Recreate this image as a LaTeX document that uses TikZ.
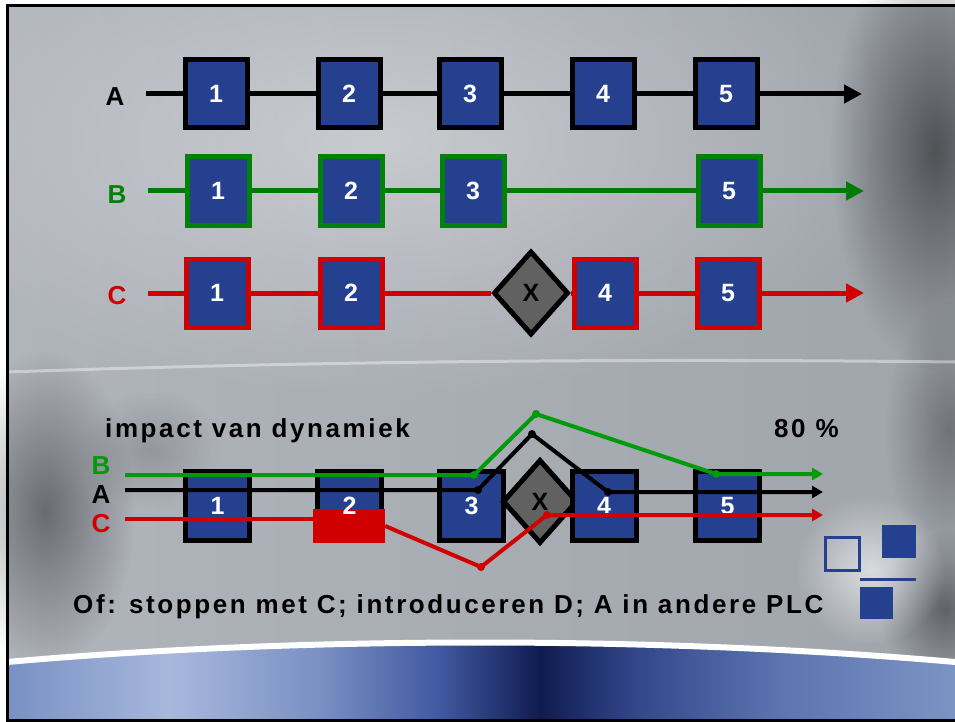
\documentclass[tikz,border=0pt]{standalone}
\usepackage{fontspec}
\setmainfont{Liberation Sans}
\newfontfamily\spc{Liberation Sans}[LetterSpace=10]
\usetikzlibrary{shapes.geometric,arrows.meta,fadings}
\definecolor{boxblue}{HTML}{25408F}
\definecolor{cred}{HTML}{D00000}
\definecolor{cgreen}{HTML}{00820A}
\definecolor{lgreen}{HTML}{009A0A}
\definecolor{dgray}{HTML}{616161}
\definecolor{bgL}{HTML}{B0B4BB}
\definecolor{bgM}{HTML}{CBCFD5}
\definecolor{bgR}{HTML}{A0A5AC}
\definecolor{bA}{HTML}{7890C4}
\definecolor{bB}{HTML}{A8B8DC}
\definecolor{bC}{HTML}{7A90C4}
\definecolor{bD}{HTML}{4058A0}
\definecolor{bE}{HTML}{101C50}
\definecolor{bF}{HTML}{34488C}
\definecolor{bG}{HTML}{5C74B0}
\definecolor{bH}{HTML}{7C94C4}
\tikzfading[name=softblob, inner color=transparent!0, outer color=transparent!100]
\pgfdeclarelayer{bg}
\pgfdeclarelayer{lines}
\pgfsetlayers{bg,lines,main}
\begin{document}
\begin{tikzpicture}[x=1pt,y=-1pt,
  txt/.style={font=\spc\bfseries\fontsize{26}{30}\selectfont, inner sep=0pt},
  bx/.style={line width=5pt, fill=boxblue, minimum width=62pt, minimum height=68pt,
    inner sep=0pt, text=white, font=\bfseries\fontsize{25}{30}\selectfont},
  bxA/.style={bx, draw=black},
  bxB/.style={bx, draw=cgreen},
  bxC/.style={bx, draw=cred},
  bxK/.style={bx, draw=black, minimum width=64pt, minimum height=69pt},
  dia/.style={diamond, draw=black, line width=5pt, fill=dgray, minimum width=75pt,
    minimum height=84pt, inner sep=0pt, font=\bfseries\fontsize{25}{30}\selectfont},
  redblock/.style={fill=cred, minimum width=72pt, minimum height=34pt, inner sep=0pt},
  numtxt/.style={text=white, inner sep=0pt, font=\bfseries\fontsize{25}{30}\selectfont},
  topline/.style={line width=5pt},
  endarrow/.style={-{Triangle[length=18pt,width=18pt]}},
  lowline/.style={line width=4pt},
  lowarrow/.style={-{Triangle[length=11pt,width=12pt]}},
  deco/.style={boxblue}
]
\useasboundingbox (0,0) rectangle (955,722);
% ---------- background ----------
\begin{pgfonlayer}{bg}
\fill[white] (0,0) rectangle (955,722);
\shade[left color=bgL, middle color=bgM, right color=bgR] (7,5) rectangle (955,722);
\fill[white, opacity=0.35, path fading=softblob] (380,140) ellipse (520 and 260);
\fill[black, opacity=0.5, path fading=softblob] (935,150) ellipse (105 and 220);
\fill[black, opacity=0.3, path fading=softblob] (950,430) ellipse (65 and 130);
\fill[black, opacity=0.4, path fading=softblob] (945,610) ellipse (65 and 80);
\fill[black, opacity=0.4, path fading=softblob] (45,510) ellipse (90 and 160);
\fill[black, opacity=0.15, path fading=softblob] (150,450) ellipse (70 and 60);
\fill[white, opacity=0.6, path fading=softblob] (870,570) ellipse (75 and 75);
\draw[white, opacity=0.4, line width=3pt] (7,372) .. controls (300,362) and (600,358) .. (955,362);
\begin{scope}
\clip (7,662) .. controls (300,636) and (660,636) .. (955,662) -- (955,722) -- (7,722) -- cycle;
\shade[left color=bA, right color=bB] (7,630) rectangle (170,722);
\shade[left color=bB, right color=bC] (170,630) rectangle (320,722);
\shade[left color=bC, right color=bD] (320,630) rectangle (440,722);
\shade[left color=bD, right color=bE] (440,630) rectangle (540,722);
\shade[left color=bE, right color=bF] (540,630) rectangle (640,722);
\shade[left color=bF, right color=bG] (640,630) rectangle (780,722);
\shade[left color=bG, right color=bH] (780,630) rectangle (955,722);
\end{scope}
\draw[white, line width=6pt] (7,662) .. controls (300,636) and (660,636) .. (955,662);
\draw[black, line width=3pt] (955,5.5) -- (7.5,5.5) -- (7.5,720.5) -- (955,720.5);
\end{pgfonlayer}
% ---------- row A ----------
\node[txt] (la) at (115,97) {A};
\coordinate (sa) at (146,94);
\coordinate (ea) at (862,94);
\node[bxA] (a1) at (216,94) {1};
\node[bxA] (a2) at (349,94) {2};
\node[bxA] (a3) at (470,94) {3};
\node[bxA] (a4) at (603,94) {4};
\node[bxA] (a5) at (726,94) {5};
% ---------- row B ----------
\node[txt, text=cgreen] (lb) at (117,195) {B};
\coordinate (sb) at (148,191);
\coordinate (eb) at (864,191);
\node[bxB] (b1) at (218,191) {1};
\node[bxB] (b2) at (351,191) {2};
\node[bxB] (b3) at (473,191) {3};
\node[bxB] (b5) at (729,191) {5};
% ---------- row C ----------
\node[txt, text=cred] (lc) at (117,296) {C};
\coordinate (sc) at (148,293);
\coordinate (ec) at (864,293);
\node[bxC] (c1) at (217,293) {1};
\node[bxC] (c2) at (351,293) {2};
\node[dia] (cx) at (531,293) {X};
\node[bxC] (c4) at (605,293) {4};
\node[bxC] (c5) at (728,293) {5};
\begin{pgfonlayer}{lines}
\draw[topline, black] (sa) -- (a1) -- (a2) -- (a3) -- (a4) -- (a5);
\draw[topline, black, endarrow] (a5) -- (ea);
\draw[topline, lgreen!80!black] (sb) -- (b1) -- (b2) -- (b3) -- (b5);
\draw[topline, lgreen!80!black, endarrow] (b5) -- (eb);
\draw[topline, cred] (sc) -- (c1) -- (c2) -- (cx) -- (c4) -- (c5);
\draw[topline, cred, endarrow] (c5) -- (ec);
\end{pgfonlayer}
% ---------- lower part ----------
\node[txt, anchor=base west] (imp) at (105,437) {impact van dynamiek};
\node[txt, anchor=base west] (pct) at (774,437) {80 \%};
\node[txt, text=lgreen] (lB) at (101,466) {B};
\node[txt] (lA) at (101,495) {A};
\node[txt, text=cred] (lC) at (101,524) {C};
\node[bxK] (k1) at (217.5,506) {1};
\node[bxK] (k2) at (349.5,506) {};
\node[bxK] (k3) at (471.5,506) {3};
\node[dia] (kx) at (540,501.5) {X};
\node[bxK] (k4) at (604,506) {4};
\node[bxK] (k5) at (727.5,506) {5};
\node[redblock] (rb) at (349,526) {};
\node[numtxt] (n2) at (349.5,506) {2};
% green path
\coordinate (gS) at (125,475);
\coordinate (g1) at (474,475);
\coordinate (g2) at (536,414);
\coordinate (g3) at (716,474);
\coordinate (gE) at (823,474);
\draw[lowline, lgreen, lowarrow] (gS) -- (g1) -- (g2) -- (g3) -- (gE);
\foreach \p in {g1,g2,g3} \fill[lgreen] (\p) circle (4pt);
% black path
\coordinate (kS) at (125,490);
\coordinate (q1) at (478,490);
\coordinate (q2) at (532,434);
\coordinate (q3) at (608,492);
\coordinate (kE) at (823,492);
\draw[lowline, black, lowarrow] (kS) -- (q1) -- (q2) -- (q3) -- (kE);
\foreach \p in {q1,q2,q3} \fill[black] (\p) circle (4pt);
% red path
\coordinate (rS) at (125,519);
\coordinate (r1) at (481,567);
\coordinate (r2) at (547,515);
\coordinate (rE) at (823,515);
\draw[lowline, cred] (rS) -- (rS -| rb.west);
\draw[lowline, cred, lowarrow] (rb.east) -- (r1) -- (r2) -- (rE);
\foreach \p in {r1,r2} \fill[cred] (\p) circle (4pt);
% caption
\node[txt, anchor=base west] (cap) at (73,613) {Of: stoppen met C; introduceren D; A in andere PLC};
% decoration
\draw[deco, line width=3pt] (825.5,537.5) rectangle (859.5,570.5);
\fill[deco] (882,525) rectangle (916,558);
\draw[deco, line width=3pt] (860,579) -- (916,579);
\fill[deco] (860,587) rectangle (893,619);
\end{tikzpicture}
\end{document}
